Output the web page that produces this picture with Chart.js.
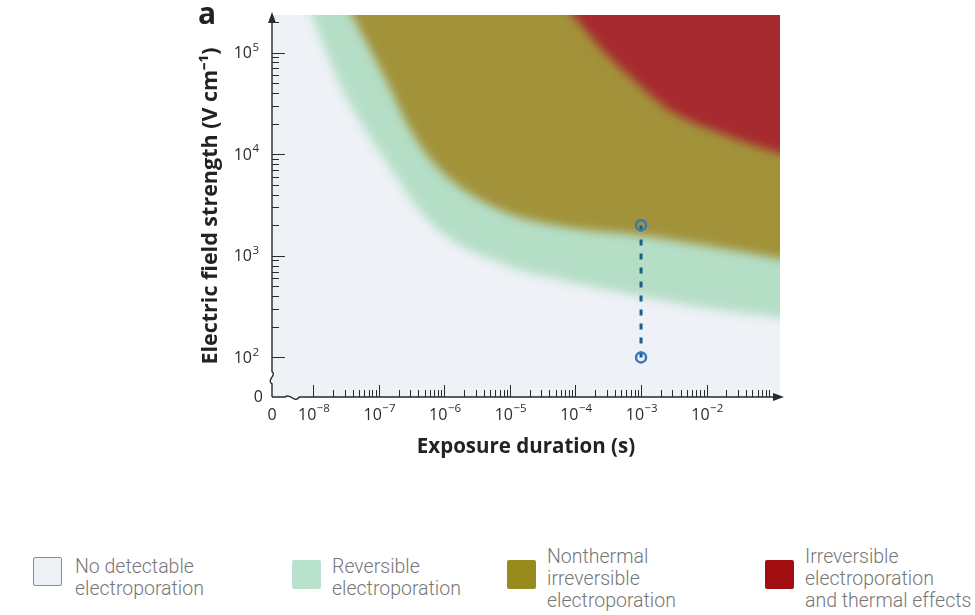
<!DOCTYPE html>
<html>
<head>
<meta charset="utf-8">
<script src="https://cdn.jsdelivr.net/npm/chart.js@4.4.1/dist/chart.umd.min.js"></script>
<style>
  html, body { margin: 0; padding: 0; background: #fff; }
  body { width: 975px; height: 615px; position: relative; overflow: hidden; font-family: 'Open Sans', sans-serif; }
  #wrap { position: absolute; left: 0; top: 0; width: 975px; height: 470px; }
  #panel-label { position: absolute; left: 198px; top: -8px; font: bold 30px 'Open Sans', sans-serif; color: #222; }
  .swatch { position: absolute; width: 29px; height: 29px; box-sizing: border-box; border-radius: 2px; }
  .legend-text { position: absolute; font-family: 'Roboto', sans-serif; font-weight: 300; font-size: 19.5px; line-height: 22px; color: #767676; white-space: nowrap; }
</style>
</head>
<body>
<div id="wrap"><canvas id="chart" width="975" height="470"></canvas></div>
<div id="panel-label">a</div>
<div id="legend"></div>

<script>
// axis ranges, in log10 units
const xRange = [-8.63, -0.88];   // log10(exposure duration, s)
const yRange = [1.61, 5.37];     // log10(field strength, V/cm)
const xTickExps = [-8, -7, -6, -5, -4, -3, -2];
const yTickExps = [2, 3, 4, 5];
const xBreak = -8.32;
const yBreak = 1.80;

// region boundaries (log10 t, log10 E)
const reversibleX = [-8.44, -8.03, -7.51, -6.98, -6.17, -5.15, -4.13, -3.00, -2.05, -0.88, 0.3];
const reversibleY = [6.00, 5.37, 4.58, 4.02, 3.30, 2.93, 2.75, 2.60, 2.49, 2.39, 2.31];

const irreversibleX = [-7.92, -7.41, -6.93, -6.52, -6.06, -5.15, -4.13, -3.00, -2.10, -0.88, 0.3];
const irreversibleY = [6.00, 5.37, 4.78, 4.24, 3.84, 3.45, 3.28, 3.20, 3.11, 2.97, 2.83];

const thermalX = [-4.87, -4.04, -3.58, -3.06, -2.56, -1.80, -0.88, 0.3];
const thermalY = [6.00, 5.37, 5.02, 4.70, 4.43, 4.21, 4.01, 3.84];

// example protocol: 1 ms pulse, 100 -> 2000 V/cm
const protocolX = [-3, -3];
const protocolY = [2, 3.301];

const regionNames = [
  ['No detectable', 'electroporation'],
  ['Reversible', 'electroporation'],
  ['Nonthermal', 'irreversible', 'electroporation'],
  ['Irreversible', 'electroporation', 'and thermal effects'],
];

const COLORS = {
  none: '#eef1f6',
  reversible: '#b5dec7',
  nonthermal: '#a2923a',
  thermal: '#a62a2f',
  protocol: '#1b5d8c',
  point: '#3579b8',
  axis: '#2a2a2a',
  text: '#2b2b2b',
};

function zip(xs, ys) {
  return xs.map((x, i) => ({ x: x, y: ys[i] }));
}

function sup(n) {
  const map = { '-': '\u207B', '0': '\u2070', '1': '\u00B9', '2': '\u00B2', '3': '\u00B3', '4': '\u2074',
    '5': '\u2075', '6': '\u2076', '7': '\u2077', '8': '\u2078', '9': '\u2079' };
  return String(n).split('').map(c => map[c]).join('');
}

function regionDataset(label, data, color, order) {
  return {
    label: label,
    data: data,
    order: order,
    borderWidth: 0,
    borderColor: 'rgba(0,0,0,0)',
    backgroundColor: color,
    pointRadius: 0,
    cubicInterpolationMode: 'monotone',
    fill: { value: 7 },
  };
}

const BASE_FONT = "16px 'Open Sans', sans-serif";
const EXP_FONT = "11.5px 'Open Sans', sans-serif";

// "10" with a raised exponent; anchor is where the "10" ends
function drawPower(ctx, exp, xEnd, yMid) {
  const expText = String(exp).replace('-', '\u2212');
  ctx.font = BASE_FONT;
  ctx.textAlign = 'right';
  ctx.textBaseline = 'middle';
  ctx.fillText('10', xEnd, yMid);
  ctx.font = EXP_FONT;
  ctx.textAlign = 'left';
  ctx.fillText(expText, xEnd + 0.5, yMid - 6);
}

// blur the region fills, then draw axes with breaks, arrows, ticks and labels
const axisDecor = {
  id: 'axisDecor',
  beforeRender(chart) {
    chart.ctx.filter = 'blur(5px)';
  },
  beforeDraw(chart) {
    chart.ctx.filter = 'none';
  },
  afterDraw(chart) {
    const { ctx, chartArea: a, scales: { x, y } } = chart;
    const L = a.left, B = a.bottom;
    ctx.save();
    ctx.strokeStyle = COLORS.axis;
    ctx.fillStyle = COLORS.axis;
    ctx.lineWidth = 1.4;

    // y axis with break
    const yb = y.getPixelForValue(yBreak);
    ctx.beginPath();
    ctx.moveTo(L, B);
    ctx.lineTo(L, yb + 6);
    ctx.bezierCurveTo(L - 6, yb + 3, L + 5, yb - 3, L, yb - 6);
    ctx.lineTo(L, a.top + 6);
    ctx.stroke();

    // x axis with break
    const xb = x.getPixelForValue(xBreak);
    ctx.beginPath();
    ctx.moveTo(L, B);
    ctx.lineTo(xb - 7, B);
    ctx.bezierCurveTo(xb - 3, B - 5, xb + 2, B + 7, xb + 7, B);
    ctx.lineTo(a.right - 4, B);
    ctx.stroke();

    // arrows
    ctx.beginPath();
    ctx.moveTo(L, a.top - 3);
    ctx.lineTo(L - 4, a.top + 8);
    ctx.lineTo(L + 4, a.top + 8);
    ctx.closePath();
    ctx.fill();
    ctx.beginPath();
    ctx.moveTo(a.right + 4, B);
    ctx.lineTo(a.right - 7, B - 4);
    ctx.lineTo(a.right - 7, B + 4);
    ctx.closePath();
    ctx.fill();

    // major and minor ticks
    ctx.lineWidth = 1;
    ctx.beginPath();
    for (const e of xTickExps) {
      const px = Math.round(x.getPixelForValue(e)) + 0.5;
      ctx.moveTo(px, B);
      ctx.lineTo(px, B - 12);
    }
    for (let e = xTickExps[0]; e < 0; e++) {
      for (let k = 2; k <= 9; k++) {
        const v = e + Math.log10(k);
        if (v >= x.max - 0.05) continue;
        const px = Math.round(x.getPixelForValue(v)) + 0.5;
        ctx.moveTo(px, B);
        ctx.lineTo(px, B - 7);
      }
    }
    for (const e of yTickExps) {
      const py = Math.round(y.getPixelForValue(e)) + 0.5;
      ctx.moveTo(L, py);
      ctx.lineTo(L + 13, py);
    }
    for (const e of yTickExps) {
      for (let k = 2; k <= 9; k++) {
        const v = e + Math.log10(k);
        if (v >= y.max - 0.03) continue;
        const py = Math.round(y.getPixelForValue(v)) + 0.5;
        ctx.moveTo(L, py);
        ctx.lineTo(L + 7, py);
      }
    }
    ctx.stroke();

    // tick labels
    ctx.fillStyle = COLORS.text;
    ctx.font = BASE_FONT;
    ctx.textBaseline = 'middle';
    ctx.textAlign = 'center';
    ctx.fillText('0', L, B + 18);
    ctx.textAlign = 'right';
    ctx.fillText('0', L - 9, B);
    for (const e of xTickExps) {
      drawPower(ctx, e, x.getPixelForValue(e) + 3, B + 18);
    }
    for (const e of yTickExps) {
      drawPower(ctx, e, L - 20, y.getPixelForValue(e) + 1);
    }
    ctx.restore();
  },
};

const titleFont = { family: "'Open Sans', sans-serif", size: 20.5, weight: 'bold' };

const chart = new Chart(document.getElementById('chart').getContext('2d'), {
  type: 'line',
  data: {
    datasets: [
      {
        label: 'Protocol',
        data: zip(protocolX, protocolY),
        order: 0,
        borderColor: COLORS.protocol,
        borderWidth: 3,
        borderDash: [6, 8],
        pointRadius: 5,
        pointBorderWidth: 2.5,
        pointBorderColor: COLORS.point,
        pointBackgroundColor: 'rgba(0,0,0,0)',
        fill: false,
      },
      regionDataset(regionNames[3].join(' '), zip(thermalX, thermalY), COLORS.thermal, 1),
      regionDataset(regionNames[2].join(' '), zip(irreversibleX, irreversibleY), COLORS.nonthermal, 2),
      regionDataset(regionNames[1].join(' '), zip(reversibleX, reversibleY), COLORS.reversible, 3),
      regionDataset(regionNames[0].join(' '), [{ x: -10, y: 0 }, { x: 1, y: 0 }], COLORS.none, 4),
    ],
  },
  options: {
    responsive: false,
    animation: false,
    layout: { padding: { left: 192, top: 15, right: 195, bottom: 0 } },
    plugins: {
      legend: { display: false },
      tooltip: { enabled: false },
      filler: { drawTime: 'beforeDraw' },
    },
    scales: {
      x: {
        type: 'linear',
        min: xRange[0],
        max: xRange[1],
        afterFit(scale) { scale.height = 73; },
        afterBuildTicks(scale) {
          scale.ticks = [xRange[0]].concat(xTickExps).map(v => ({ value: v }));
        },
        grid: { display: false, drawTicks: false },
        border: { display: false },
        ticks: { display: false },
        title: {
          display: true,
          text: 'Exposure duration (s)',
          color: '#222',
          font: titleFont,
          padding: { top: 0, bottom: 11 },
        },
      },
      y: {
        type: 'linear',
        min: yRange[0],
        max: yRange[1],
        afterFit(scale) { scale.width = 80; },
        afterBuildTicks(scale) {
          scale.ticks = [yRange[0]].concat(yTickExps).map(v => ({ value: v }));
        },
        grid: { display: false, drawTicks: false },
        border: { display: false },
        ticks: { display: false },
        title: {
          display: true,
          text: 'Electric field strength (V cm' + sup(-1) + ')',
          color: '#222',
          font: { family: "'Open Sans', sans-serif", size: 21.5, weight: 'bold' },
          padding: { top: 6, bottom: 0 },
        },
      },
    },
  },
  plugins: [axisDecor],
});

// legend below the chart
const legendItems = [
  { box: [33, 557], text: [75, 556], color: COLORS.none, border: '1.5px solid #8c8c8c' },
  { box: [292, 560], text: [332, 556], color: '#b8e2cb', border: 'none' },
  { box: [507, 560], text: [547, 546], color: '#998a1e', border: 'none' },
  { box: [765, 560], text: [805, 546], color: '#a00e12', border: 'none' },
];
const legendEl = document.getElementById('legend');
regionNames.forEach((lines, i) => {
  const it = legendItems[i];
  const sw = document.createElement('div');
  sw.className = 'swatch';
  sw.style.left = it.box[0] + 'px';
  sw.style.top = it.box[1] + 'px';
  sw.style.background = it.color;
  sw.style.border = it.border;
  const tx = document.createElement('div');
  tx.className = 'legend-text';
  tx.style.left = it.text[0] + 'px';
  tx.style.top = it.text[1] + 'px';
  tx.innerHTML = lines.join('<br>');
  legendEl.appendChild(sw);
  legendEl.appendChild(tx);
});
</script>
</body>
</html>
